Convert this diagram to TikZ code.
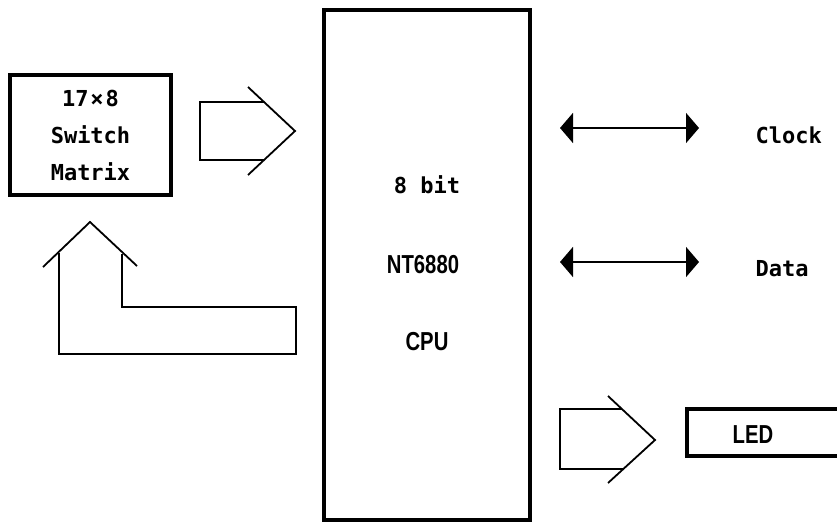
\documentclass[tikz,border=0pt]{standalone}
\usepackage{fontspec}
\usepackage{tikz}
\usetikzlibrary{arrows.meta}
\newfontfamily\keyfont{DejaVu Sans Mono}
\newfontfamily\cpufont[FakeStretch=0.78]{Liberation Sans}

\begin{document}
\begin{tikzpicture}
  [x=1pt,y=-1pt,line join=miter,
   thickbox/.style={draw,line width=3.5pt,inner sep=0pt},
   outline/.style={line width=1.8pt},
   dblarrow/.style={line width=1.8pt,{Triangle[length=13pt,width=30pt]}-{Triangle[length=13pt,width=30pt]}},
   keytext/.style={font=\keyfont\bfseries\fontsize{22}{37}\selectfont},
   cputext/.style={font=\cpufont\bfseries\fontsize{26}{30}\selectfont}]
  \useasboundingbox (0,0) rectangle (837,527);
  % boxes
  \node[thickbox,keytext,align=center,minimum width=161pt,minimum height=120pt] (matrix) at (90.5,135) {17\kern2pt×\kern2pt8\\Switch\\Matrix};
  \node[thickbox,minimum width=206pt,minimum height=510pt] (cpu) at (427,265) {};
  \node[keytext,anchor=base] (cpubits) at (427,193) {8 bit};
  \node[cputext,anchor=base] (cputype) at (423,273) {NT6880};
  \node[cputext,anchor=base] (cpuname) at (427,350) {CPU};
  \node[thickbox,anchor=north west,minimum width=170pt,minimum height=47pt] (led) at (685,407) {};
  \node[cputext,anchor=base] (ledtext) at (753,443) {LED};
  \node[keytext,anchor=base west] (clock) at (752,143) {Clock};
  \node[keytext,anchor=base west] (data) at (752,276) {Data};
  % bus arrows
  \draw[outline] (248,87) -- (295,131) -- (248,175);
  \draw[outline] (264,102) -- (200,102) -- (200,160) -- (264,160);
  \draw[outline] (43,267) -- (90,222) -- (137,266);
  \draw[outline] (59,253) -- (59,354) -- (296,354) -- (296,307) -- (122,307) -- (122,254);
  \draw[outline] (608,396) -- (655,440) -- (608,483);
  \draw[outline] (622,409) -- (560,409) -- (560,469) -- (623,469);
  % clock and data lines
  \coordinate (clkL) at (560,128);
  \coordinate (clkR) at (699,128);
  \coordinate (datL) at (560,262);
  \coordinate (datR) at (699,262);
  \foreach \from/\to in {clkL/clkR,datL/datR}
    \draw[dblarrow] (\from) -- (\to);
\end{tikzpicture}
\end{document}
